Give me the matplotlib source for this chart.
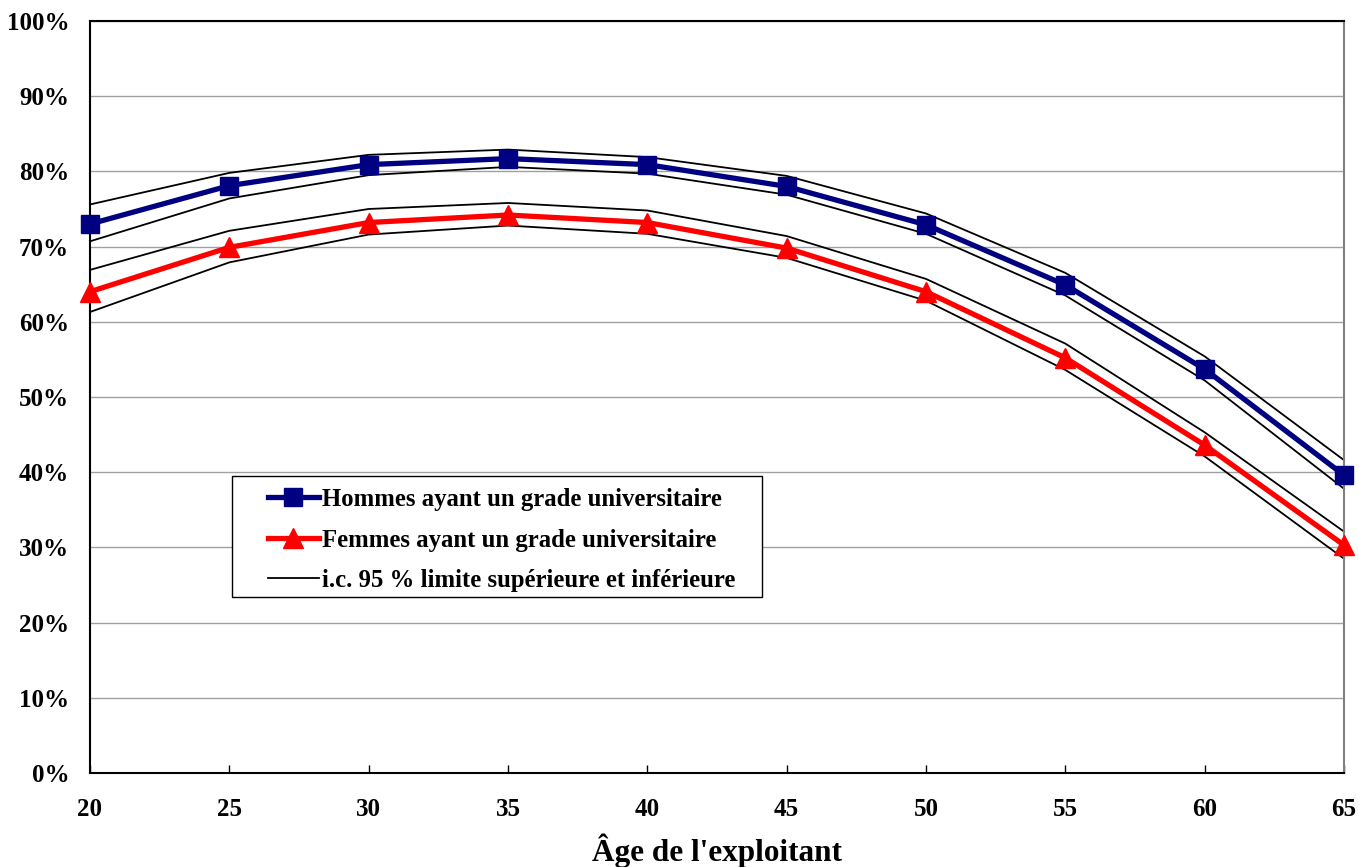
import matplotlib
matplotlib.use("Agg")
import matplotlib.pyplot as plt
from matplotlib.patches import Rectangle
from matplotlib.ticker import FuncFormatter

plt.rcParams['font.family'] = ['Liberation Serif', 'DejaVu Serif']
plt.rcParams['font.weight'] = 'bold'

ages = [20, 25, 30, 35, 40, 45, 50, 55, 60, 65]

hommes = [73.0, 78.1, 80.9, 81.7, 80.9, 78.0, 72.9, 64.9, 53.7, 39.6]
hommes_haut = [75.6, 79.8, 82.2, 82.9, 81.9, 79.4, 74.4, 66.5, 55.4, 41.6]
hommes_bas = [70.7, 76.4, 79.5, 80.6, 79.7, 76.9, 71.7, 63.5, 52.2, 37.8]

femmes = [64.0, 69.9, 73.2, 74.2, 73.2, 69.8, 64.0, 55.2, 43.6, 30.3]
femmes_haut = [66.9, 72.1, 75.0, 75.8, 74.8, 71.4, 65.7, 57.1, 45.3, 32.1]
femmes_bas = [61.3, 67.9, 71.6, 72.8, 71.7, 68.5, 62.8, 53.6, 42.1, 28.5]

fig = plt.figure(figsize=(13.59, 8.67), dpi=100)
ax = fig.add_axes([0.0662, 0.1084, 0.9228, 0.8674])

for serie in [hommes_haut, hommes_bas, femmes_haut, femmes_bas]:
    ax.plot(ages, serie, color='black', lw=1.3, zorder=2, clip_on=False)

ax.plot(ages, hommes, color='#000080', lw=3.8, marker='s', markersize=13, zorder=3,
        clip_on=False, label='Hommes ayant un grade universitaire')
ax.plot(ages, femmes, color='#ff0000', lw=3.8, marker='^', markersize=14, zorder=3,
        clip_on=False, label='Femmes ayant un grade universitaire')
ax.plot([], [], color='black', lw=1.3, label='i.c. 95 % limite supérieure et inférieure')

ax.set_xlim(20, 65)
ax.set_ylim(0, 100)
ax.set_xticks(ages)
ax.set_yticks(range(0, 101, 10))
ax.yaxis.set_major_formatter(FuncFormatter(lambda v, p: '%d%%' % v))
ax.grid(axis='y', color='#a0a0a0', lw=1)
ax.set_axisbelow(True)
ax.tick_params(axis='x', direction='in', length=6, width=1, pad=18, labelsize=18)
ax.tick_params(axis='y', length=0, pad=15, labelsize=18)
for t in ax.get_xticklabels() + ax.get_yticklabels():
    t.set_fontweight('bold')

for s in ['left', 'bottom', 'top']:
    ax.spines[s].set_color('black')
    ax.spines[s].set_linewidth(1.5)
ax.spines['right'].set_color('#808080')
ax.spines['right'].set_linewidth(1.5)

ax.set_xlabel("Âge de l'exploitant", fontsize=22.5, fontweight='bold', labelpad=9)

# cadre de la légende
ax.add_patch(Rectangle((0.113, 0.234), 0.423, 0.161, transform=ax.transAxes,
                       facecolor='white', edgecolor='black', lw=1, zorder=4))
leg = ax.legend(loc='upper left', bbox_to_anchor=(0.142, 0.379),
                frameon=False, handlelength=2.05, handletextpad=0.15,
                borderaxespad=0, borderpad=0, labelspacing=0.71,
                prop={'weight': 'bold', 'size': 17.8})
leg.set_zorder(5)

fig.savefig('out.png', dpi=100)
